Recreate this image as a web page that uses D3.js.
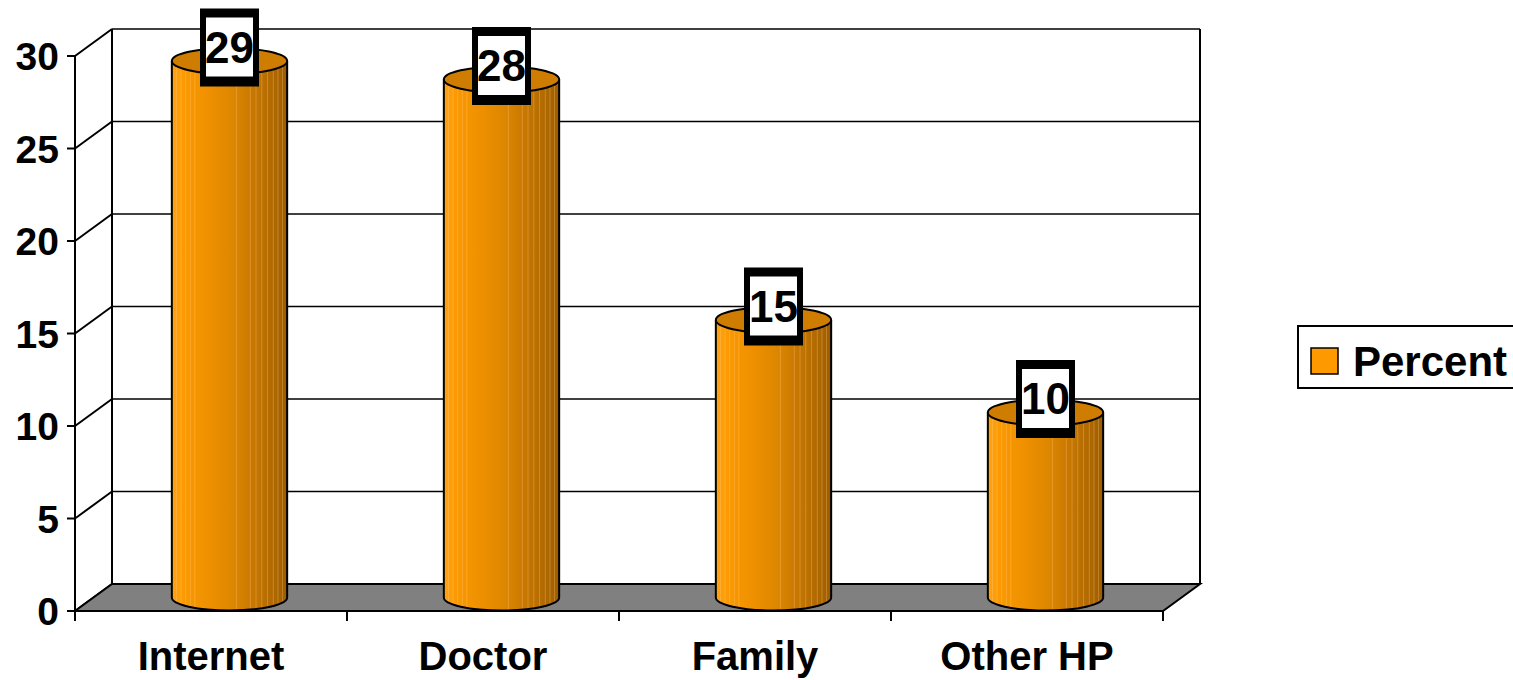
<!DOCTYPE html>
<html>
<head>
<meta charset="utf-8">
<script src="https://cdn.jsdelivr.net/npm/d3@7"></script>
<style>
  body { margin: 0; background: #fff; }
  text { font-family: "Liberation Sans", Arial, sans-serif; font-weight: bold; fill: #000; }
</style>
</head>
<body>
<div id="chart"></div>
<script>
// chart data
var categories = ["Internet", "Doctor", "Family", "Other HP"];
var percent = [29, 28, 15, 10];
var yTicks = [0, 5, 10, 15, 20, 25, 30];
var seriesName = "Percent";

var width = 1513, height = 680;
var depthX = 37, depthY = -27;   // offset of the back wall
var plotLeft = 75, plotRight = 1163, plotBottom = 611, plotTop = 56;

var svg = d3.select("#chart").append("svg")
    .attr("width", width)
    .attr("height", height);

var x = d3.scaleBand()
    .domain(categories)
    .range([plotLeft, plotRight]);

var y = d3.scaleLinear()
    .domain([0, 30])
    .range([plotBottom, plotTop]);

// gradient for the cylinder body
var defs = svg.append("defs");
var grad = defs.append("linearGradient")
    .attr("id", "cyl")
    .attr("x1", "0%").attr("x2", "100%")
    .attr("y1", "0%").attr("y2", "0%");
[[0, "#ffa312"], [0.12, "#fb9800"], [0.35, "#ec8f00"], [0.55, "#db8500"],
 [0.75, "#c27400"], [0.92, "#ab6500"], [1, "#9a5b00"]].forEach(function (s) {
    grad.append("stop").attr("offset", s[0]).attr("stop-color", s[1]);
});

// left side wall diagonals
var walls = svg.append("g");
walls.selectAll("line.side")
    .data(yTicks)
    .enter().append("line")
    .attr("x1", plotLeft).attr("y1", function (d) { return y(d); })
    .attr("x2", plotLeft + depthX).attr("y2", function (d) { return y(d) + depthY; })
    .attr("stroke", "#000").attr("stroke-width", 2);

// back wall gridlines
walls.selectAll("line.grid")
    .data(yTicks)
    .enter().append("line")
    .attr("x1", plotLeft + depthX).attr("x2", plotRight + depthX)
    .attr("y1", function (d) { return y(d) + depthY; })
    .attr("y2", function (d) { return y(d) + depthY; })
    .attr("stroke", "#000").attr("stroke-width", 1.6);

walls.append("line")
    .attr("x1", plotLeft + depthX).attr("x2", plotLeft + depthX)
    .attr("y1", y(30) + depthY).attr("y2", y(0) + depthY)
    .attr("stroke", "#000").attr("stroke-width", 2);
walls.append("line")
    .attr("x1", plotRight + depthX).attr("x2", plotRight + depthX)
    .attr("y1", y(30) + depthY).attr("y2", y(0) + depthY)
    .attr("stroke", "#000").attr("stroke-width", 2);

// floor
walls.append("path")
    .attr("d", "M" + plotLeft + "," + y(0) + "L" + plotRight + "," + y(0) +
               "L" + (plotRight + depthX) + "," + (y(0) + depthY) +
               "L" + (plotLeft + depthX) + "," + (y(0) + depthY) + "Z")
    .attr("fill", "#808080")
    .attr("stroke", "#000").attr("stroke-width", 2);

// y axis
var axis = svg.append("g");
axis.append("line")
    .attr("x1", plotLeft).attr("x2", plotLeft)
    .attr("y1", y(30)).attr("y2", plotBottom + 10)
    .attr("stroke", "#000").attr("stroke-width", 2);
axis.selectAll("line.tick")
    .data(yTicks)
    .enter().append("line")
    .attr("x1", plotLeft - 8).attr("x2", plotLeft)
    .attr("y1", function (d) { return y(d); })
    .attr("y2", function (d) { return y(d); })
    .attr("stroke", "#000").attr("stroke-width", 2);
axis.selectAll("text")
    .data(yTicks)
    .enter().append("text")
    .attr("x", plotLeft - 16)
    .attr("y", function (d) { return y(d); })
    .attr("dy", "0.36em")
    .attr("text-anchor", "end")
    .style("font-size", "39px")
    .text(function (d) { return d; });

// x axis
axis.selectAll("line.xtick")
    .data(categories)
    .enter().append("line")
    .attr("x1", function (d) { return x(d) + x.bandwidth(); })
    .attr("x2", function (d) { return x(d) + x.bandwidth(); })
    .attr("y1", plotBottom).attr("y2", plotBottom + 10)
    .attr("stroke", "#000").attr("stroke-width", 2);
axis.selectAll("text.cat")
    .data(categories)
    .enter().append("text")
    .attr("x", function (d) { return x(d) + x.bandwidth() / 2; })
    .attr("y", 670)
    .attr("text-anchor", "middle")
    .style("font-size", "40px")
    .text(function (d) { return d; });

// cylinders
var rx = x.bandwidth() * 0.212, ry = 13;
var stripes = [0.04, 0.08, 0.12, 0.16, 0.2, 0.56, 0.68, 0.73, 0.78, 0.83, 0.88, 0.92, 0.96];

var cyl = svg.selectAll("g.cyl")
    .data(categories)
    .enter().append("g");

cyl.each(function (d, i) {
    var g = d3.select(this);
    var cx = x(d) + x.bandwidth() / 2 + depthX / 2;
    var yb = y(0) + depthY / 2;
    var yt = y(percent[i]) + depthY / 2;

    g.append("path")
        .attr("d", "M" + (cx - rx) + "," + yt +
                   "L" + (cx - rx) + "," + yb +
                   "A" + rx + "," + ry + " 0 0 0 " + (cx + rx) + "," + yb +
                   "L" + (cx + rx) + "," + yt +
                   "A" + rx + "," + ry + " 0 0 0 " + (cx - rx) + "," + yt + "Z")
        .attr("fill", "url(#cyl)");

    g.selectAll("line")
        .data(stripes)
        .enter().append("line")
        .attr("x1", function (s) { return cx - rx + s * 2 * rx; })
        .attr("x2", function (s) { return cx - rx + s * 2 * rx; })
        .attr("y1", yt)
        .attr("y2", function (s) {
            var t = (s * 2 * rx - rx) / rx;
            return yb + ry * Math.sqrt(Math.max(0, 1 - t * t));
        })
        .attr("stroke", "#ffd08a")
        .attr("stroke-opacity", 0.3)
        .attr("stroke-width", 1);

    g.append("path")
        .attr("d", "M" + (cx - rx) + "," + yt +
                   "L" + (cx - rx) + "," + yb +
                   "A" + rx + "," + ry + " 0 0 0 " + (cx + rx) + "," + yb +
                   "L" + (cx + rx) + "," + yt)
        .attr("fill", "none")
        .attr("stroke", "#000").attr("stroke-width", 2);

    g.append("ellipse")
        .attr("cx", cx).attr("cy", yt)
        .attr("rx", rx).attr("ry", ry)
        .attr("fill", "#cf7d00")
        .attr("stroke", "#000").attr("stroke-width", 2);

    // value label
    var bw = 59, bh = 78, by = yt - 13.5 - bh / 2;
    g.append("rect")
        .attr("x", cx - bw / 2).attr("y", by)
        .attr("width", bw).attr("height", bh)
        .attr("fill", "#000");
    g.append("rect")
        .attr("x", cx - bw / 2 + 6).attr("y", by + 9)
        .attr("width", bw - 12).attr("height", bh - 19)
        .attr("fill", "#fff");
    g.append("text")
        .attr("x", cx).attr("y", by + 9 + (bh - 19) / 2)
        .attr("dy", "0.36em")
        .attr("text-anchor", "middle")
        .style("font-size", "44px")
        .text(percent[i]);
});

// legend
var legend = svg.append("g");
legend.append("rect")
    .attr("x", 1298).attr("y", 326)
    .attr("width", 240).attr("height", 62)
    .attr("fill", "#fff")
    .attr("stroke", "#000").attr("stroke-width", 2);
legend.append("rect")
    .attr("x", 1311).attr("y", 348)
    .attr("width", 27).attr("height", 26)
    .attr("fill", "#ff9900")
    .attr("stroke", "#000").attr("stroke-width", 1.5);
legend.append("text")
    .attr("x", 1353).attr("y", 376)
    .style("font-size", "42px")
    .text(seriesName);
</script>
</body>
</html>
